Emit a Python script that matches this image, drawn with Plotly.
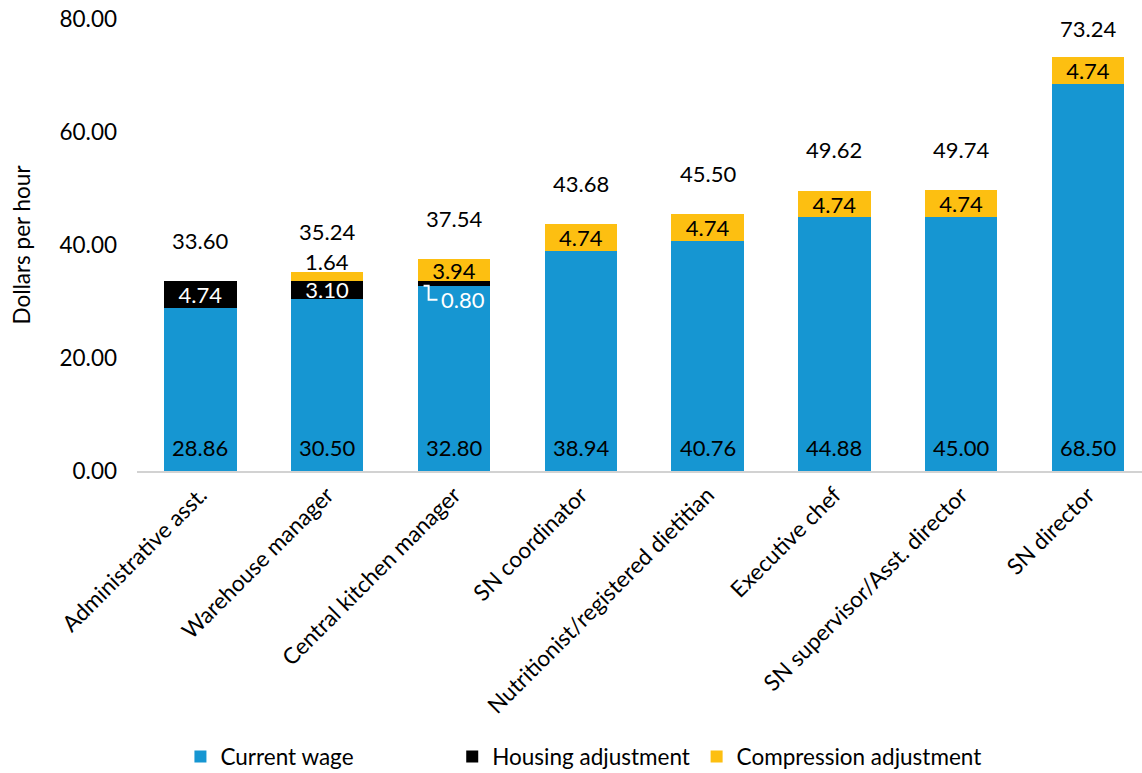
import plotly.graph_objects as go

# Hourly wage build-up by position
positions = [
    "Administrative asst.",
    "Warehouse manager",
    "Central kitchen manager",
    "SN coordinator",
    "Nutritionist/registered dietitian",
    "Executive chef",
    "SN supervisor/Asst. director",
    "SN director",
]
current_wage = [28.86, 30.50, 32.80, 38.94, 40.76, 44.88, 45.00, 68.50]
housing_adj = [4.74, 3.10, 0.80, 0.00, 0.00, 0.00, 0.00, 0.00]
compression_adj = [0.00, 1.64, 3.94, 4.74, 4.74, 4.74, 4.74, 4.74]
totals = [33.60, 35.24, 37.54, 43.68, 45.50, 49.62, 49.74, 73.24]
y_ticks = [0, 20, 40, 60, 80]

BLUE = "#1696d2"
BLACK = "#000000"
YELLOW = "#fdbf11"
FONT = "Lato, 'Open Sans', sans-serif"
FS = 22.5      # axis / legend text
LFS = 22       # value labels
PX_PER_UNIT = 452 / 80


def fmt(v):
    return f"{v:.2f}"


x = list(range(len(positions)))

fig = go.Figure()

fig.add_trace(go.Bar(
    x=x, y=current_wage, name="Current wage",
    marker=dict(color=BLUE, line=dict(width=0)),
    width=0.57, legend="legend",
))

# small housing segments get an external callout instead of inside text
housing_text = [fmt(v) if v >= 2 else "" for v in housing_adj]
fig.add_trace(go.Bar(
    x=x, y=housing_adj, name="Housing adjustment",
    marker=dict(color=BLACK, line=dict(width=0)),
    text=housing_text,
    textposition="inside", insidetextanchor="middle",
    textfont=dict(color="white", size=LFS, family=FONT),
    constraintext="none",
    width=0.57, legend="legend2",
))

comp_text = [fmt(v) if v >= 2 else "" for v in compression_adj]
fig.add_trace(go.Bar(
    x=x, y=compression_adj, name="Compression adjustment",
    marker=dict(color=YELLOW, line=dict(width=0)),
    text=comp_text,
    textposition="inside", insidetextanchor="middle",
    textfont=dict(color="black", size=LFS, family=FONT),
    constraintext="none",
    width=0.57, legend="legend3",
))

annotations = []
# current wage value near the base of each bar
for i, v in enumerate(current_wage):
    annotations.append(dict(
        x=i, y=0, xref="x", yref="y", yanchor="middle", yshift=24,
        text=fmt(v), showarrow=False,
        font=dict(size=LFS, color="black", family=FONT),
    ))

# thin compression segments: value sits just above the stack
for i, v in enumerate(compression_adj):
    if 0 < v < 2:
        annotations.append(dict(
            x=i, y=totals[i], xref="x", yref="y", yanchor="middle", yshift=10,
            text=fmt(v), showarrow=False,
            font=dict(size=LFS, color="black", family=FONT),
        ))

# totals above each stack
for i, t in enumerate(totals):
    annotations.append(dict(
        x=i, y=min(t + 7.2, 78.4), xref="x", yref="y",
        text=fmt(t), showarrow=False,
        font=dict(size=LFS, color="black", family=FONT),
    ))

# callout for housing segments too thin for inside text
for i, v in enumerate(housing_adj):
    if 0 < v < 2:
        seg_mid = current_wage[i] + v / 2
        x0 = i - 0.24
        x1 = i - 0.2
        x2 = i - 0.13
        y_top = seg_mid - 0.4
        y_bot = y_top - 14 / PX_PER_UNIT
        fig.add_shape(type="path", xref="x", yref="y",
                      path=f"M {x0} {y_top} L {x1} {y_top} L {x1} {y_bot} L {x2} {y_bot}",
                      line=dict(color="white", width=2))
        annotations.append(dict(
            x=x2 + 0.01, y=y_bot, xref="x", yref="y", xanchor="left",
            text=fmt(v), showarrow=False,
            font=dict(size=LFS, color="white", family=FONT),
        ))

legend_common = dict(
    orientation="h", xref="container", yref="container",
    xanchor="left", yanchor="middle", y=0.021,
    font=dict(size=FS, family=FONT, color="black"),
    bgcolor="rgba(0,0,0,0)",
)

fig.update_layout(
    width=1142, height=773,
    margin=dict(l=137, r=0, t=19, b=302, autoexpand=False),
    paper_bgcolor="white", plot_bgcolor="white",
    barmode="stack",
    font=dict(family=FONT, size=FS, color="black"),
    showlegend=True,
    legend=dict(legend_common, x=0.158),
    legend2=dict(legend_common, x=0.396),
    legend3=dict(legend_common, x=0.61),
    uniformtext=dict(minsize=LFS, mode="show"),
    annotations=annotations,
)

fig.update_xaxes(
    range=[-0.5, 7.426],
    tickmode="array", tickvals=x, ticktext=positions,
    tickangle=-45,
    tickfont=dict(size=FS, family=FONT, color="black"),
    showline=True, linecolor="#d2d2d2", linewidth=2,
    showgrid=False, ticks="", zeroline=False,
)

fig.update_yaxes(
    range=[0, 80],
    tickmode="array", tickvals=y_ticks, ticktext=[fmt(v) for v in y_ticks],
    tickfont=dict(size=FS, family=FONT, color="black"),
    showgrid=False, zeroline=False, showline=False, ticks="",
    ticklabelstandoff=19,
    title=dict(text="Dollars per hour", font=dict(size=FS, family=FONT, color="black"),
               standoff=22),
)

fig.write_html("out.html")
